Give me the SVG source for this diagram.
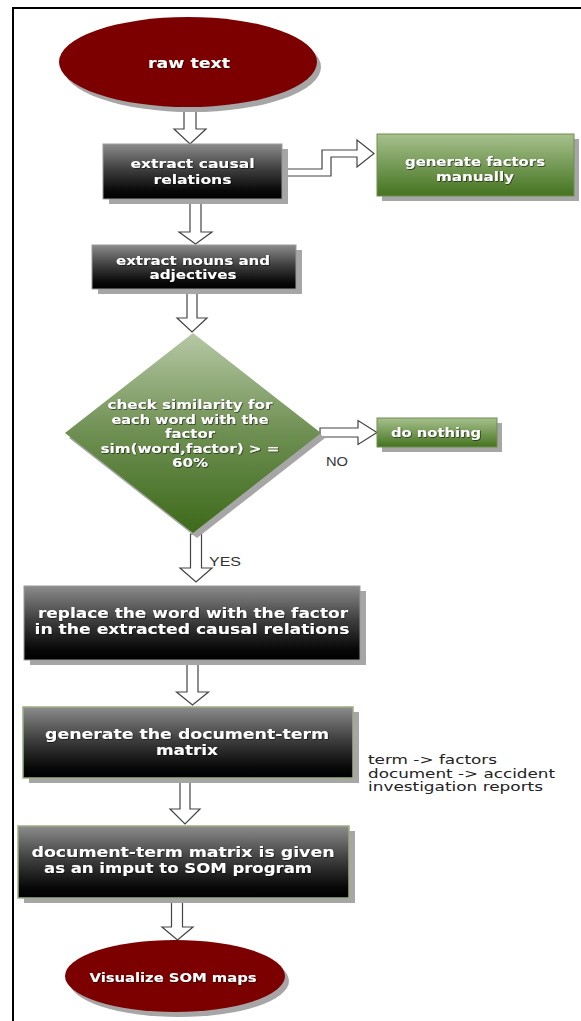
<svg xmlns="http://www.w3.org/2000/svg" width="581" height="1021" viewBox="0 0 581 1021">
<defs>
<linearGradient id="gDark" x1="0" y1="0" x2="0" y2="1">
<stop offset="0" stop-color="#8c8c8c"/>
<stop offset="0.45" stop-color="#404040"/>
<stop offset="0.85" stop-color="#080808"/>
<stop offset="1" stop-color="#000"/>
</linearGradient>
<linearGradient id="gGreen" x1="0" y1="0" x2="0" y2="1">
<stop offset="0" stop-color="#a7c18e"/>
<stop offset="1" stop-color="#44731f"/>
</linearGradient>
<linearGradient id="gDia" x1="0" y1="0" x2="0" y2="1">
<stop offset="0" stop-color="#b6c8a4"/>
<stop offset="0.5" stop-color="#6e8f52"/>
<stop offset="1" stop-color="#3d6a1a"/>
</linearGradient>
<filter id="ts" x="-10%" y="-40%" width="120%" height="180%">
<feDropShadow dx="0.7" dy="0.7" stdDeviation="0.6" flood-color="#000" flood-opacity="0.75"/>
</filter>
</defs>
<style>
.sh{fill:#a6a6a6}
.dark{fill:url(#gDark);stroke:#9a9a9a;stroke-width:1}
.dkg{fill:url(#gDark);stroke:#9cae84;stroke-width:1.5}
.grn{fill:url(#gGreen);stroke:#6f8f50;stroke-width:1}
.dia{fill:url(#gDia)}
.ell{fill:#7c0000}
.t{font-family:"DejaVu Sans",Verdana,sans-serif;font-weight:bold;fill:#fff;text-anchor:middle;font-size:12.5px;filter:url(#ts)}
.tl{font-size:14px}
.n{font-family:"DejaVu Sans",Verdana,sans-serif;font-size:12px;fill:#222}
.lbl{font-family:"Liberation Sans",Arial,sans-serif;font-size:12.5px;fill:#333}
.arr{fill:#fff;stroke:#444;stroke-width:1.2;stroke-linejoin:miter}
.frame{fill:none;stroke:#000;stroke-width:2}
</style>
<rect width="581" height="1021" fill="#fff"/>
<path class="frame" d="M13,1021 V8 H581"/>

<g id="connectors">
<polygon class="arr" points="184,105 196,105 196,129 206,129 190,144 174,129 184,129"/>
<polygon class="arr" points="282,169 322,169 322,150 357,150 357,140 374,153.5 357,167 357,157 331,157 331,176 282,176"/>
<polygon class="arr" points="190,199 201,199 201,232 212,232 195.5,244 179,232 190,232"/>
<polygon class="arr" points="187,289 197,289 197,318 207,318 192,332 177,318 187,318"/>
<polygon class="arr" points="320,428 358,428 358,420.5 377,432.5 358,444.5 358,437 320,437"/>
<polygon class="arr" points="190.5,534 201.5,534 201.5,568 212,568 196,582 180,568 190.5,568"/>
<polygon class="arr" points="187,660 198,660 198,692 208.5,692 192.5,705 176.5,692 187,692"/>
<polygon class="arr" points="180,778 190,778 190,809 200,809 185,824 170,809 180,809"/>
<polygon class="arr" points="171.5,898 182.5,898 182.5,927 193,927 177.5,940 162,927 171.5,927"/>
<text class="lbl" x="326" y="466" textLength="22" lengthAdjust="spacingAndGlyphs">NO</text>
<text class="lbl" x="209" y="566" textLength="32" lengthAdjust="spacingAndGlyphs">YES</text>
</g>

<g id="raw-text">
<ellipse class="sh" cx="192" cy="67" rx="129" ry="45"/>
<ellipse class="ell" cx="188" cy="62" rx="129" ry="45"/>
<text class="t tl" x="189" y="68" textLength="82" lengthAdjust="spacingAndGlyphs">raw text</text>
</g>

<g id="extract-causal">
<rect class="sh" x="109" y="149" width="179" height="55"/>
<rect class="dark" x="103" y="144" width="179" height="55"/>
<text class="t" x="192.5" y="168" textLength="124" lengthAdjust="spacingAndGlyphs">extract causal</text>
<text class="t" x="192.5" y="184" textLength="78" lengthAdjust="spacingAndGlyphs">relations</text>
</g>

<g id="generate-factors">
<rect class="sh" x="382" y="139" width="197" height="62"/>
<rect class="grn" x="377" y="134" width="197" height="62"/>
<text class="t" x="475" y="166" textLength="140" lengthAdjust="spacingAndGlyphs">generate factors</text>
<text class="t" x="475" y="181" textLength="78" lengthAdjust="spacingAndGlyphs">manually</text>
</g>

<g id="extract-nouns">
<rect class="sh" x="98" y="250" width="204" height="44"/>
<rect class="dark" x="92" y="245" width="204" height="44"/>
<text class="t" x="193" y="265" textLength="154" lengthAdjust="spacingAndGlyphs">extract nouns and</text>
<text class="t" x="193" y="279" textLength="87" lengthAdjust="spacingAndGlyphs">adjectives</text>
</g>

<g id="check-similarity">
<polygon class="sh" points="197,338 325,438 197,538 69,438"/>
<polygon class="dia" points="193,333 321,433 193,533 65,433"/>
<text class="t" x="190" y="409" textLength="165" lengthAdjust="spacingAndGlyphs">check similarity for</text>
<text class="t" x="190" y="423.5" textLength="157" lengthAdjust="spacingAndGlyphs">each word with the</text>
<text class="t" x="190" y="438" textLength="50" lengthAdjust="spacingAndGlyphs">factor</text>
<text class="t" x="190" y="452.5" textLength="179" lengthAdjust="spacingAndGlyphs">sim(word,factor) &gt; =</text>
<text class="t" x="190" y="467" textLength="36" lengthAdjust="spacingAndGlyphs">60%</text>
</g>

<g id="do-nothing">
<rect class="sh" x="382" y="423" width="120" height="29"/>
<rect class="grn" x="377" y="418" width="120" height="29"/>
<text class="t" x="436" y="437" textLength="90" lengthAdjust="spacingAndGlyphs">do nothing</text>
</g>

<g id="replace-word">
<rect class="sh" x="30" y="591" width="336" height="74"/>
<rect class="dark" x="24" y="586" width="336" height="74"/>
<text class="t tl" x="193" y="618" textLength="310" lengthAdjust="spacingAndGlyphs">replace the word with the factor</text>
<text class="t tl" x="192" y="634" textLength="315" lengthAdjust="spacingAndGlyphs">in the extracted causal relations</text>
</g>

<g id="doc-term-matrix">
<rect class="sh" x="29" y="712" width="330" height="71"/>
<rect class="dkg" x="23" y="707" width="330" height="71"/>
<text class="t tl" x="187" y="739" textLength="284" lengthAdjust="spacingAndGlyphs">generate the document-term</text>
<text class="t tl" x="187" y="755" textLength="62" lengthAdjust="spacingAndGlyphs">matrix</text>
</g>

<g id="note">
<text class="n" x="368" y="764" textLength="129" lengthAdjust="spacingAndGlyphs">term -&gt; factors</text>
<text class="n" x="368" y="777.5" textLength="187" lengthAdjust="spacingAndGlyphs">document -&gt; accident</text>
<text class="n" x="368" y="791" textLength="175" lengthAdjust="spacingAndGlyphs">investigation reports</text>
</g>

<g id="som-input">
<rect class="sh" x="24" y="831" width="331" height="72"/>
<rect class="dkg" x="18" y="826" width="331" height="72"/>
<text class="t tl" x="183" y="857" textLength="303" lengthAdjust="spacingAndGlyphs">document-term matrix is given</text>
<text class="t tl" x="178" y="873" textLength="268" lengthAdjust="spacingAndGlyphs">as an imput to SOM program</text>
</g>

<g id="visualize-som">
<ellipse class="sh" cx="179" cy="981" rx="110" ry="36"/>
<ellipse class="ell" cx="175" cy="976" rx="110" ry="36"/>
<text class="t" x="173" y="982" textLength="167" lengthAdjust="spacingAndGlyphs">Visualize SOM maps</text>
</g>
</svg>
